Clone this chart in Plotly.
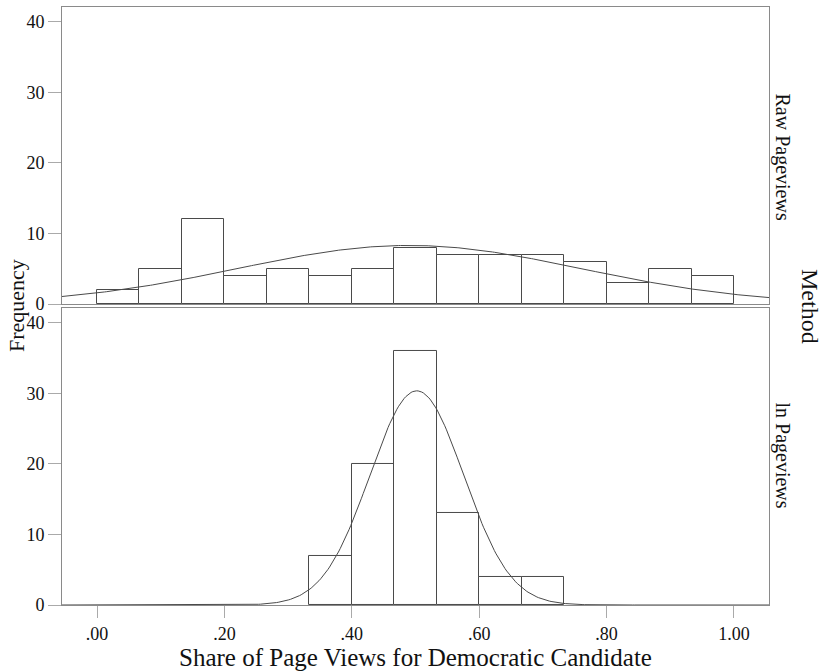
import numpy as np
import plotly.graph_objects as go

# ---- data ----
bin_width = 1 / 15
raw_bin_starts = [i / 15 for i in range(15)]
raw_counts = [2, 5, 12, 4, 5, 4, 5, 8, 7, 7, 7, 6, 3, 5, 4]

ln_bin_starts = [5 / 15, 6 / 15, 7 / 15, 8 / 15, 9 / 15, 10 / 15]
ln_counts = [7, 20, 36, 13, 4, 4]

raw_mean, raw_sd = 0.49, 0.269
ln_mean, ln_sd = 0.502, 0.0736

x_tickvals = [0, 0.2, 0.4, 0.6, 0.8, 1.0]
x_ticktext = [".00", ".20", ".40", ".60", ".80", "1.00"]
y_tickvals = [0, 10, 20, 30, 40]

panel_labels = ["Raw Pageviews", "ln Pageviews"]

FONT = "Liberation Serif, Times New Roman, serif"
FRAME = "#8a8a8a"
MARK = "#4a4a4a"

x_range = [-0.055, 1.055]
y_range = [0, 42.1]


def normal_curve(counts, mean, sd):
    xs = np.linspace(x_range[0], x_range[1], 400)
    n = sum(counts)
    ys = n * bin_width / (sd * np.sqrt(2 * np.pi)) * np.exp(-0.5 * ((xs - mean) / sd) ** 2)
    return xs, ys


fig = go.Figure()

for counts, starts, mean, sd, xa, ya in [
    (raw_counts, raw_bin_starts, raw_mean, raw_sd, "x2", "y"),
    (ln_counts, ln_bin_starts, ln_mean, ln_sd, "x", "y2"),
]:
    fig.add_trace(go.Bar(
        x=[s + bin_width / 2 for s in starts], y=counts, width=bin_width,
        marker=dict(color="white", line=dict(color=MARK, width=1)),
        xaxis=xa, yaxis=ya, showlegend=False, hoverinfo="skip",
    ))
    cx, cy = normal_curve(counts, mean, sd)
    fig.add_trace(go.Scatter(
        x=cx, y=cy, mode="lines", line=dict(color=MARK, width=1),
        xaxis=xa, yaxis=ya, showlegend=False, hoverinfo="skip",
    ))

axis_common = dict(showline=True, linecolor=FRAME, linewidth=1, mirror=True,
                   showgrid=False, zeroline=False,
                   tickfont=dict(family=FONT, size=18, color="#111"))

fig.update_layout(
    width=823, height=671,
    margin=dict(l=62, r=54, t=7, b=66),
    paper_bgcolor="white", plot_bgcolor="white",
    bargap=0,
    font=dict(family=FONT, color="#111"),
    xaxis=dict(domain=[0, 1], anchor="y2", range=x_range,
               tickvals=x_tickvals, ticktext=x_ticktext,
               ticks="outside", ticklen=12, tickcolor="#aaaaaa",
               title=dict(text="Share of Page Views for Democratic Candidate",
                          font=dict(family=FONT, size=25), standoff=0),
               automargin=False,
               **axis_common),
    xaxis2=dict(domain=[0, 1], anchor="y", range=x_range, matches="x",
                showticklabels=False, ticks="", **axis_common),
    yaxis=dict(domain=[0.5033, 1], anchor="x2", range=y_range,
               tickvals=y_tickvals, ticks="outside", ticklen=13, tickcolor="#aaaaaa",
               automargin=False, **axis_common),
    yaxis2=dict(domain=[0, 0.4967], anchor="x", range=y_range,
                tickvals=y_tickvals, ticks="outside", ticklen=13, tickcolor="#aaaaaa",
                automargin=False, **axis_common),
    annotations=[
        dict(text=panel_labels[0], xref="paper", yref="paper", x=1.0, xshift=13,
             xanchor="center", yanchor="middle",
             y=0.75, textangle=90, showarrow=False,
             font=dict(family=FONT, size=20)),
        dict(text=panel_labels[1], xref="paper", yref="paper", x=1.0, xshift=13,
             xanchor="center", yanchor="middle",
             y=0.25, textangle=90, showarrow=False,
             font=dict(family=FONT, size=20)),
        dict(text="Method", xref="paper", yref="paper", x=1.0, xshift=41,
             xanchor="center", yanchor="middle",
             y=0.5, textangle=90, showarrow=False,
             font=dict(family=FONT, size=24)),
        dict(text="Frequency", xref="paper", yref="paper", x=0, xshift=-46,
             xanchor="center", yanchor="middle",
             y=0.5, textangle=-90, showarrow=False,
             font=dict(family=FONT, size=22)),
    ],
)

fig.write_html("out.html", config={"displayModeBar": False},
               post_script="document.body.style.margin='0';")
